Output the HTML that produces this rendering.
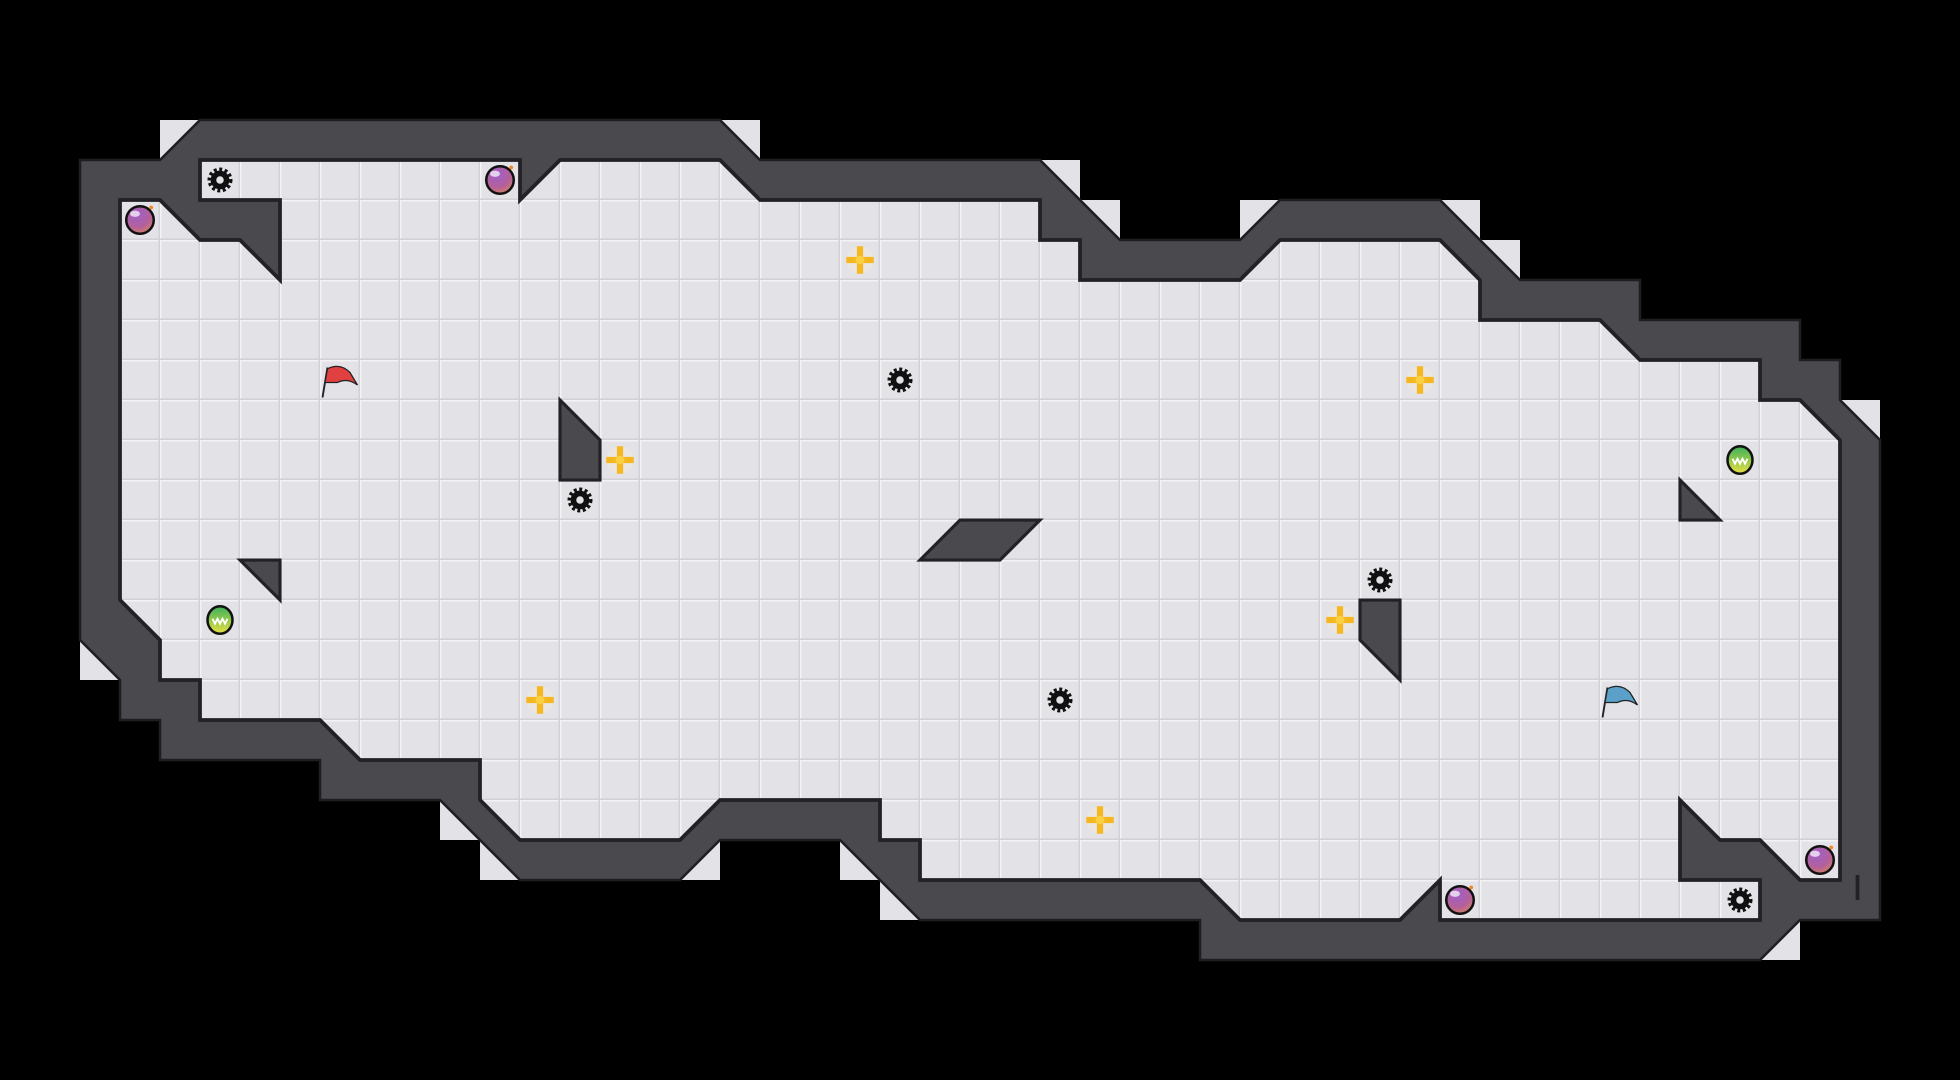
<!DOCTYPE html>
<html><head><meta charset="utf-8"><style>html,body{margin:0;padding:0;background:#000;overflow:hidden}svg{display:block}</style></head>
<body>
<svg width="1960" height="1080" viewBox="0 0 1568 864" xmlns="http://www.w3.org/2000/svg">
<defs>
<pattern id="g" width="32" height="32" patternUnits="userSpaceOnUse">
<rect width="32" height="32" fill="#e3e2e7"/>
<rect x="0" y="0" width="32" height="1.2" fill="#f3f3f5"/>
<rect x="0" y="0" width="1.2" height="32" fill="#f3f3f5"/>
<rect x="30.8" y="0" width="1.2" height="32" fill="#d2d1d6"/>
<rect x="0" y="30.8" width="32" height="1.2" fill="#d2d1d6"/>
</pattern>
<radialGradient id="bomb" cx="0.4" cy="0.3" r="0.8"><stop offset="0" stop-color="#a060c8"/><stop offset="0.6" stop-color="#b4609a"/><stop offset="1" stop-color="#e08a50"/></radialGradient>
<linearGradient id="grn" x1="0" y1="0" x2="0" y2="1"><stop offset="0" stop-color="#3cb05a"/><stop offset="1" stop-color="#e8e040"/></linearGradient>
<g id="gear"><circle r="8" fill="none" stroke="#111" stroke-width="4" stroke-dasharray="2.2 1.9"/><circle r="7.5" fill="#111"/><circle r="3" fill="#e3e2e7"/></g>
<g id="bm"><circle r="11" fill="url(#bomb)" stroke="#111" stroke-width="2"/><ellipse cx="-4" cy="-5" rx="4" ry="2.5" fill="#fff" opacity="0.7"/><circle cx="9" cy="-10" r="1.5" fill="#f08a20"/></g>
<g id="cr"><circle r="11" fill="#eeeae0" opacity="0.6"/><rect x="-11" y="-2.5" width="22" height="5" fill="#f5b820"/><rect x="-2.5" y="-11" width="5" height="22" fill="#f5b820"/><circle r="3.5" fill="#fbd040"/></g>
<g id="gb"><ellipse rx="10" ry="11" fill="url(#grn)" stroke="#111" stroke-width="2"/><path d="M-6,-1 l2,4 l2,-4 l2,4 l2,-4 l2,4 l2,-4" fill="none" stroke="#fff" stroke-width="1.5"/></g>
</defs>
<rect width="1568" height="864" fill="#000"/>
<g fill="#e3e2e7">
<rect x="128" y="96" width="32" height="32"/><rect x="576" y="96" width="32" height="32"/>
<rect x="832" y="128" width="32" height="32"/><rect x="864" y="160" width="32" height="32"/>
<rect x="992" y="160" width="32" height="32"/><rect x="1152" y="160" width="32" height="32"/>
<rect x="1184" y="192" width="32" height="32"/><rect x="1472" y="320" width="32" height="32"/>
<rect x="1408" y="736" width="32" height="32"/><rect x="544" y="672" width="32" height="32"/>
<rect x="672" y="672" width="32" height="32"/><rect x="704" y="704" width="32" height="32"/>
<rect x="384" y="672" width="32" height="32"/><rect x="352" y="640" width="32" height="32"/>
<rect x="64" y="512" width="32" height="32"/>
</g>
<polygon fill="#4a494e" stroke="#1e1e22" stroke-width="2" stroke-linejoin="miter" points="64,128 128,128 160,96 576,96 608,128 832,128 896,192 992,192 1024,160 1152,160 1216,224 1312,224 1312,256 1440,256 1440,288 1472,288 1472,320 1504,352 1504,736 1440,736 1408,768 960,768 960,736 736,736 672,672 576,672 544,704 416,704 352,640 256,640 256,608 128,608 128,576 96,576 96,544 64,512"/>
<polygon fill="url(#g)" stroke="#222126" stroke-width="3" stroke-linejoin="miter" points="96,160 128,160 160,192 192,192 224,224 224,160 160,160 160,128 416,128 416,160 448,128 576,128 608,160 832,160 832,192 864,192 864,224 992,224 1024,192 1152,192 1184,224 1184,256 1280,256 1312,288 1408,288 1408,320 1440,320 1472,352 1472,704 1440,704 1408,672 1376,672 1344,640 1344,704 1408,704 1408,736 1152,736 1152,704 1120,736 992,736 960,704 736,704 736,672 704,672 704,640 576,640 544,672 416,672 384,640 384,608 288,608 256,576 160,576 160,544 128,544 128,512 96,480"/>
<g fill="#4a494e" stroke="#222126" stroke-width="2.5">
<polygon points="448,320 480,352 480,384 448,384"/>
<polygon points="192,448 224,448 224,480"/>
<polygon points="768,416 832,416 800,448 736,448"/>
<polygon points="1088,480 1120,480 1120,544 1088,512"/>
<polygon points="1344,384 1376,416 1344,416"/>
</g>
<rect x="1484.5" y="700" width="3" height="20" fill="#222"/>
<use href="#gear" x="176" y="144"/><use href="#gear" x="720" y="304"/><use href="#gear" x="464" y="400"/>
<use href="#gear" x="1104" y="464"/><use href="#gear" x="848" y="560"/><use href="#gear" x="1392" y="720"/>
<use href="#bm" x="112" y="176"/><use href="#bm" x="400" y="144"/><use href="#bm" x="1456" y="688"/><use href="#bm" x="1168" y="720"/>
<use href="#cr" x="688" y="208"/><use href="#cr" x="1136" y="304"/><use href="#cr" x="496" y="368"/>
<use href="#cr" x="1072" y="496"/><use href="#cr" x="432" y="560"/><use href="#cr" x="880" y="656"/>
<use href="#gb" x="1392" y="368"/><use href="#gb" x="176" y="496"/>
<g stroke="#222" stroke-width="1.5" fill="none"><path d="M262,294 L258,318"/><path d="M1286,550 L1282,574"/></g>
<path d="M262,295 Q272,290 280,298 L286,308 Q278,302 270,306 L260,306 Z" fill="#e04040" stroke="#222" stroke-width="1"/>
<path d="M1286,551 Q1296,546 1304,554 L1310,564 Q1302,558 1294,562 L1284,562 Z" fill="#5aa0c8" stroke="#222" stroke-width="1"/>
</svg>
</body></html>
